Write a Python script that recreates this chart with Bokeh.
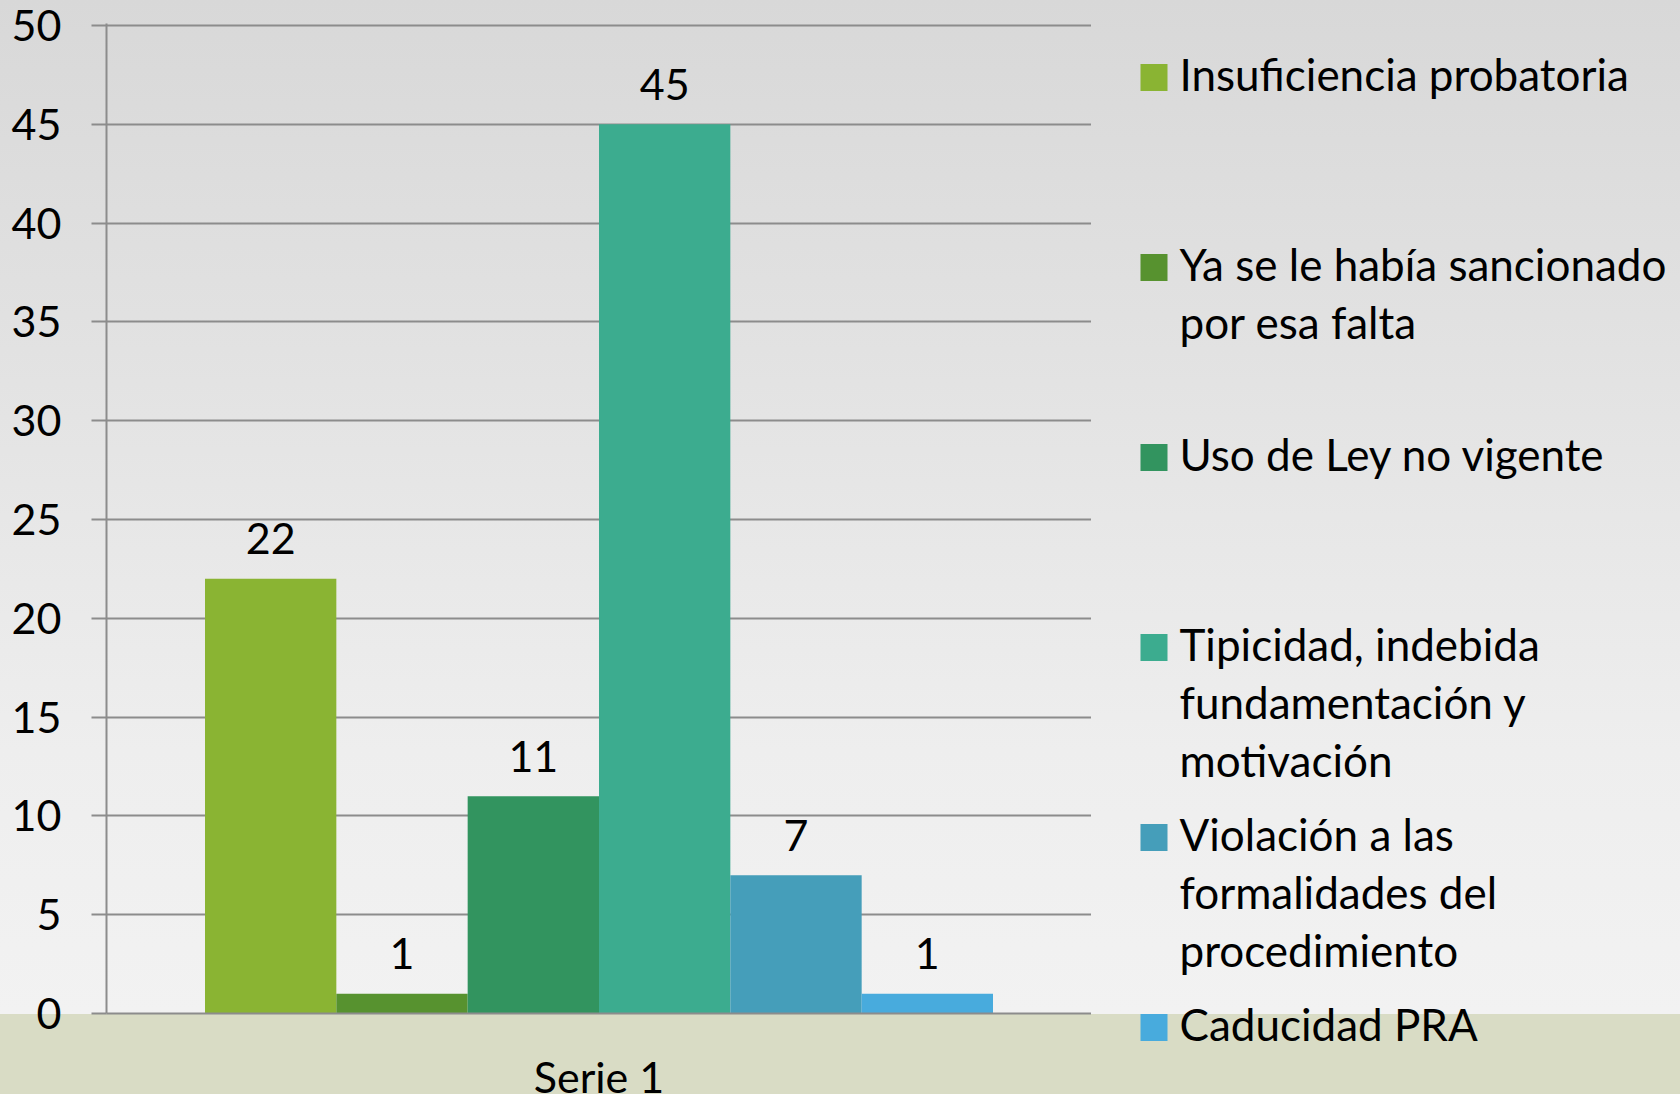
from bokeh.plotting import figure
from bokeh.layouts import row
from bokeh.models import ColumnDataSource, FactorRange, Range1d, FixedTicker
from bokeh.transform import dodge
from bokeh.core.properties import value
from bokeh.embed import file_html
from bokeh.resources import INLINE

# ---- data ----
series_label = "Serie 1"
categories = [
    "Insuficiencia probatoria",
    "Ya se le había sancionado\npor esa falta",
    "Uso de Ley no vigente",
    "Tipicidad, indebida\nfundamentación y\nmotivación",
    "Violación a las\nformalidades del\nprocedimiento",
    "Caducidad PRA",
]
values = [22, 1, 11, 45, 7, 1]
colors = ["#8ab433", "#57922f", "#32945f", "#3cac8f", "#459eba", "#48abdd"]
y_ticks = [0, 5, 10, 15, 20, 25, 30, 35, 40, 45, 50]

# ---- layout ----
W1, W2, H1, H2 = 1091, 589, 1108, 1094
FONT = "Lato"
FS = "43px"
LFS = "44px"
GRID = "#8c8c8c"

p = figure(width=W1, height=H1, x_range=FactorRange(series_label), y_range=Range1d(0, 50.1),
           output_backend="svg", toolbar_location=None,
           min_border_left=106, min_border_right=0, min_border_top=23, min_border_bottom=95)
p.x_range.range_padding = 0
p.border_fill_alpha = 0
p.background_fill_alpha = 0
p.outline_line_color = None

# y axis
p.yaxis.ticker = FixedTicker(ticks=y_ticks)
p.yaxis.major_label_text_font = FONT
p.yaxis.major_label_text_font_size = FS
p.yaxis.major_label_text_color = "black"
p.yaxis.axis_line_color = GRID
p.yaxis.axis_line_width = 2
p.yaxis.major_tick_out = 15
p.yaxis.major_tick_in = 0
p.yaxis.major_tick_line_color = GRID
p.yaxis.major_tick_line_width = 2
p.yaxis.minor_tick_out = 0
p.yaxis.minor_tick_in = 0
p.yaxis.major_label_standoff = 30

# x axis
p.xaxis.major_label_text_font = FONT
p.xaxis.major_label_text_font_size = FS
p.xaxis.major_label_text_color = "black"
p.xaxis.axis_line_color = GRID
p.xaxis.axis_line_width = 2
p.xaxis.major_tick_out = 0
p.xaxis.major_tick_in = 0
p.xaxis.major_label_standoff = 37

p.xgrid.grid_line_color = None
p.ygrid.ticker = FixedTicker(ticks=y_ticks)
p.ygrid.grid_line_color = GRID
p.ygrid.grid_line_width = 2

n = len(values)
group_width = 0.8
bw = group_width / n

for i in range(n):
    off = (i - (n - 1) / 2) * bw
    src = ColumnDataSource(dict(x=[series_label], top=[values[i]], label=[str(values[i])]))
    p.vbar(x=dodge("x", off, range=p.x_range), top="top", width=bw, source=src,
           fill_color=colors[i], line_color=None)
    p.text(x=dodge("x", off, range=p.x_range), y="top", text="label", source=src,
           text_align="center", text_baseline="alphabetic", y_offset=-40,
           text_font=value(FONT), text_font_size=FS, text_color="black")

# ---- legend panel (pixel coordinates, y from top) ----
q = figure(width=W2, height=H2, x_range=Range1d(0, W2), y_range=Range1d(H2, 0),
           output_backend="svg", toolbar_location=None,
           x_axis_location=None, y_axis_location=None,
           min_border_left=0, min_border_right=0, min_border_top=0, min_border_bottom=0)
q.frame_align = False
p.frame_align = False
q.grid.visible = False
q.border_fill_alpha = 0
q.background_fill_alpha = 0
q.outline_line_color = None

first_center = 77
item_step = 190
line_h = 58
text_shift = -4
sq = 27
sq_left = 1140 - W1
text_left = 1179 - W1

sq_x, sq_y, sq_c = [], [], []
tx, ty, tt = [], [], []
for i, cat in enumerate(categories):
    c = first_center + i * item_step
    sq_x.append(sq_left + sq / 2)
    sq_y.append(c)
    sq_c.append(colors[i])
    for j, line in enumerate(cat.split("\n")):
        tx.append(text_left)
        ty.append(c + text_shift + j * line_h)
        tt.append(line)

q.rect(x=sq_x, y=sq_y, width=sq, height=sq, fill_color=sq_c, line_color=None)
q.text(x=tx, y=ty, text=tt, text_align="left", text_baseline="middle",
       text_font=value(FONT), text_font_size=LFS, text_color="black")

layout = row(p, q)
layout.styles = {
    "position": "absolute", "left": "0px", "top": "0px",
    "max-height": "1094px", "overflow": "hidden",
    "background": "linear-gradient(to bottom, #d8d8d8 0px, #e2e2e2 350px, #eeeeee 750px, #f2f2f2 1014px, #d9dcc5 1014px, #d9dcc5 100%)",
}

open("out.html", "w").write(file_html(layout, INLINE))
